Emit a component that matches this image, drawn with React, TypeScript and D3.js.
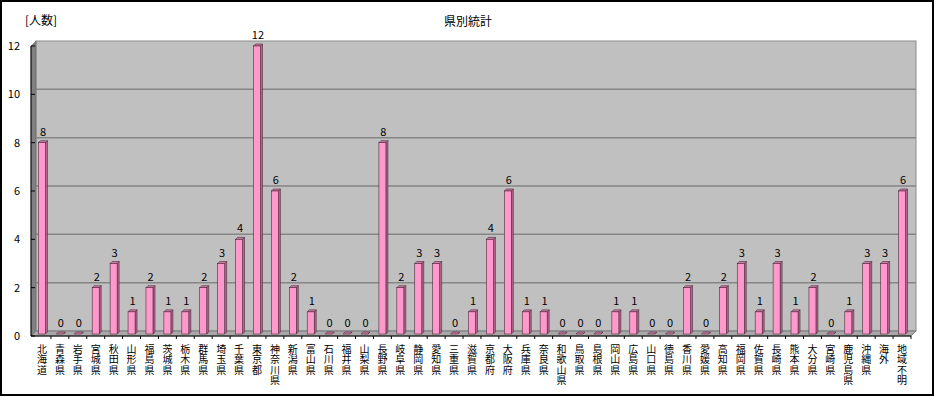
import React from 'react';
import * as d3 from 'd3';

const prefectures = [
  '北海道', '青森県', '岩手県', '宮城県', '秋田県', '山形県', '福島県', '茨城県', '栃木県', '群馬県',
  '埼玉県', '千葉県', '東京都', '神奈川県', '新潟県', '富山県', '石川県', '福井県', '山梨県', '長野県',
  '岐阜県', '静岡県', '愛知県', '三重県', '滋賀県', '京都府', '大阪府', '兵庫県', '奈良県', '和歌山県',
  '鳥取県', '島根県', '岡山県', '広島県', '山口県', '徳島県', '香川県', '愛媛県', '高知県', '福岡県',
  '佐賀県', '長崎県', '熊本県', '大分県', '宮崎県', '鹿児島県', '沖縄県', '海外', '地域不明',
];
const counts = [
  8, 0, 0, 2, 3, 1, 2, 1, 1, 2,
  3, 4, 12, 6, 2, 1, 0, 0, 0, 8,
  2, 3, 3, 0, 1, 4, 6, 1, 1, 0,
  0, 0, 1, 1, 0, 0, 2, 0, 2, 3,
  1, 3, 1, 2, 0, 1, 3, 3, 6,
];
const yTicks = [0, 2, 4, 6, 8, 10, 12];
const title = '県別統計';
const yTitle = '[人数]';

const W = 935;
const H = 397;
const FONT = '"Noto Sans CJK JP", "Noto Sans", sans-serif';

const App: React.FC = () => {
  // 3D depth offset of the back wall
  const dx = 5;
  const dy = -5;
  const left = 31;
  const right = 911;

  const y = d3.scaleLinear().domain([0, 12]).range([336, 46]);
  const x = d3.scaleBand<string>()
    .domain(prefectures)
    .range([33, 911])
    .paddingInner(0)
    .paddingOuter(0);

  const bw = 7; // bar front width
  const bd = 2; // bar depth

  const y0 = y(0);
  const yTop = y(12);

  return (
    <svg width={W} height={H} style={{ position: 'absolute', left: 0, top: 0, background: '#fff' }}
      fontFamily={FONT}>
      <rect x={1} y={1} width={932} height={394} fill="#fff" stroke="#000" strokeWidth={2} />

      <text x={468} y={26} textAnchor="middle" fontSize={12} fill="#000">{title}</text>
      <text x={25} y={25} fontSize={12} fill="#000">{yTitle}</text>

      {/* back wall */}
      <rect x={left + dx} y={yTop + dy} width={right - left} height={y0 - yTop} fill="#c0c0c0"
        stroke="#8c8c8c" strokeWidth={1} />
      {yTicks.filter(t => t > 0 && t < 12).map(t => (
        <line key={'g' + t} x1={left + dx} x2={right + dx} y1={y(t) + dy} y2={y(t) + dy}
          stroke="#858585" strokeWidth={1.5} />
      ))}
      {/* left wall */}
      <polygon points={`${left},${yTop} ${left + dx},${yTop + dy} ${left + dx},${y0 + dy} ${left},${y0}`}
        fill="#808080" stroke="#606060" strokeWidth={0.5} />
      {/* floor */}
      <polygon points={`${left},${y0} ${left + dx},${y0 + dy} ${right + dx},${y0 + dy} ${right},${y0}`}
        fill="#a8a8a8" stroke="#707070" strokeWidth={0.8} />
      <line x1={left} x2={right} y1={y0} y2={y0} stroke="#000" strokeWidth={1} />
      <line x1={left} x2={left} y1={yTop} y2={y0} stroke="#000" strokeWidth={1} />

      {/* y ticks */}
      {yTicks.map(t => (
        <g key={'t' + t}>
          <line x1={left} x2={left + 4} y1={y(t)} y2={y(t)} stroke="#000" />
          <text x={20} y={y(t)} dy="0.35em" textAnchor="end" fontSize={11} fill="#000">{t}</text>
        </g>
      ))}

      {/* x ticks */}
      {prefectures.map((p, i) => (
        <line key={'xt' + i} x1={(x(p) || 0) + x.bandwidth()} x2={(x(p) || 0) + x.bandwidth()}
          y1={y0} y2={y0 + 3} stroke="#000" />
      ))}

      {/* bars */}
      {prefectures.map((p, i) => {
        const v = counts[i];
        const cx = (x(p) || 0) + x.bandwidth() / 2;
        const bx = cx - bw / 2;
        const base = y0 - 2;
        const top = Math.min(y(v), base);
        return (
          <g key={'b' + i}>
            <polygon points={`${bx + bw},${top} ${bx + bw + bd},${top - bd} ${bx + bw + bd},${base - bd} ${bx + bw},${base}`}
              fill="#b5668d" stroke="#4d2a3b" strokeWidth={0.6} />
            <polygon points={`${bx},${top} ${bx + bd},${top - bd} ${bx + bw + bd},${top - bd} ${bx + bw},${top}`}
              fill="#cf7aa5" stroke="#4d2a3b" strokeWidth={0.6} />
            {v > 0 && (
              <rect x={bx} y={top} width={bw} height={base - top} fill="#ff99cc"
                stroke="#4d2a3b" strokeWidth={0.6} />
            )}
            <text x={cx + 1} y={top - 7} textAnchor="middle" fontSize={11} fill="#000">{v}</text>
          </g>
        );
      })}

      {/* vertical category labels */}
      {prefectures.map((p, i) => {
        const cx = (x(p) || 0) + x.bandwidth() / 2;
        return (
          <text key={'l' + i} x={cx} y={344} fontSize={10} fill="#000"
            style={{ writingMode: 'vertical-rl', textOrientation: 'upright', letterSpacing: '0.4px' }}>
            {p}
          </text>
        );
      })}
    </svg>
  );
};

export default App;
